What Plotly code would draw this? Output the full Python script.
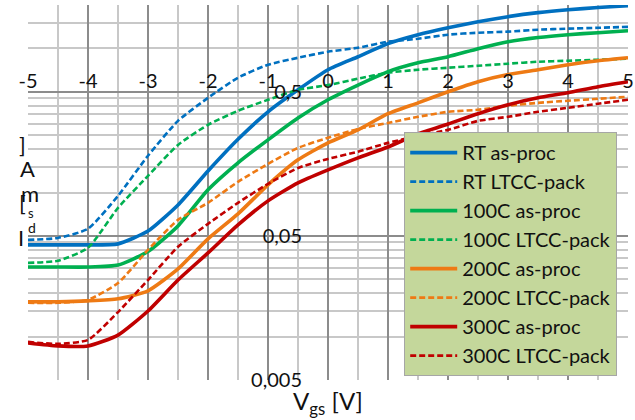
import math
import plotly.graph_objects as go

# ---------------- data ----------------
vgs = [-5, -4.5, -4, -3.5, -3, -2.5, -2, -1.5, -1, -0.5, 0,
       0.5, 1, 1.5, 2, 2.5, 3, 3.5, 4, 4.5, 5]

rt_as_proc = [0.0433, 0.0433, 0.0433, 0.0440, 0.054, 0.082, 0.141, 0.234, 0.363, 0.516, 0.711,
              0.875, 1.08, 1.245, 1.39, 1.53, 1.66, 1.77, 1.855, 1.92, 1.98]
rt_ltcc = [0.0469, 0.0484, 0.056, 0.0948, 0.180, 0.314, 0.454, 0.626, 0.770, 0.861, 0.948,
           1.01, 1.112, 1.166, 1.245, 1.285, 1.306, 1.348, 1.37, 1.39, 1.41]
c100_as_proc = [0.0304, 0.0304, 0.0304, 0.0314, 0.0389, 0.0586, 0.1043, 0.1606, 0.232, 0.329, 0.44,
                0.556, 0.69, 0.795, 0.875, 0.995, 1.112, 1.19, 1.245, 1.285, 1.327]
c100_ltcc = [0.0325, 0.0336, 0.0413, 0.0783, 0.1305, 0.214, 0.295, 0.369, 0.440, 0.516, 0.556,
             0.616, 0.678, 0.711, 0.734, 0.758, 0.783, 0.808, 0.821, 0.834, 0.848]
c200_as_proc = [0.01744, 0.01744, 0.0177, 0.0183, 0.0208, 0.0295, 0.0477, 0.0711, 0.113, 0.1685, 0.221,
                0.272, 0.352, 0.419, 0.500, 0.587, 0.658, 0.711, 0.770, 0.821, 0.861]
c200_ltcc = [0.01716, 0.01716, 0.0180, 0.02355, 0.0400, 0.0646, 0.0848, 0.1186, 0.158, 0.204, 0.240,
             0.276, 0.304, 0.335, 0.363, 0.375, 0.40, 0.419, 0.433, 0.447, 0.462]
c300_as_proc = [0.00904, 0.00862, 0.00862, 0.01025, 0.01506, 0.0247, 0.0381, 0.0596, 0.0875, 0.1167, 0.1436,
                0.174, 0.207, 0.255, 0.299, 0.352, 0.406, 0.454, 0.492, 0.542, 0.587]
c300_ltcc = [0.00919, 0.0089, 0.00948, 0.0148, 0.0247, 0.0420, 0.0606, 0.0848, 0.1148, 0.148, 0.171,
             0.192, 0.221, 0.247, 0.272, 0.314, 0.335, 0.363, 0.387, 0.413, 0.440]

series_names = ["RT as-proc", "RT LTCC-pack", "100C as-proc", "100C LTCC-pack",
                "200C as-proc", "200C LTCC-pack", "300C as-proc", "300C LTCC-pack"]
series_values = [rt_as_proc, rt_ltcc, c100_as_proc, c100_ltcc,
                 c200_as_proc, c200_ltcc, c300_as_proc, c300_ltcc]

x_tick_vals = [-5, -4, -3, -2, -1, 0, 1, 2, 3, 4, 5]
x_tick_labels = ["-5", "-4", "-3", "-2", "-1", "0", "1", "2", "3", "4", "5"]
x_minor_vals = [-4.5, -3.5, -2.5, -1.5, -0.5, 0.5, 1.5, 2.5, 3.5, 4.5]

y_tick_vals = [0.005, 0.05, 0.5]
y_tick_labels = ["0,005", "0,05", "0,5"]
y_minor_vals = [0.01, 0.015, 0.02, 0.025, 0.03, 0.035, 0.04, 0.045,
                0.1, 0.15, 0.2, 0.25, 0.3, 0.35, 0.4, 0.45,
                1.0, 1.5, 2.0]

x_title = "V<sub>gs</sub> [V]"
y_title_chars = ["]", "A", "m", "[", "s", "d", "I"]

# ---------------- styles ----------------
colors = ["#0070C0", "#0070C0", "#00B050", "#00B050",
          "#EE7A14", "#EE7A14", "#C00000", "#C00000"]
FONT = "Lato"

fig = go.Figure()
for name, vals, col, i in zip(series_names, series_values, colors, range(8)):
    dashed = (i % 2 == 1)
    fig.add_trace(go.Scatter(
        x=vgs, y=vals, mode="lines", name=name, legendgroup=name,
        line=dict(color=col, width=2.6 if dashed else 3.6,
                  dash="6px,3px" if dashed else "solid",
                  shape="spline", smoothing=0.55),
        hoverinfo="skip"))

ylo, yhi = math.log10(0.005), math.log10(2.0)
x_axis_pos = (math.log10(0.5) - ylo) / (yhi - ylo)

fig.update_layout(
    width=635, height=420,
    margin=dict(l=28, r=7, t=5, b=40),
    paper_bgcolor="white", plot_bgcolor="white",
    font=dict(family=FONT, color="#111111"),
    showlegend=True,
    legend=dict(x=0.627, y=0.661, xanchor="left", yanchor="top",
                bgcolor="#C4D79B", bordercolor="#A6A6A6", borderwidth=1,
                font=dict(family=FONT, size=20, color="#111111"),
                tracegroupgap=0, itemwidth=47, entrywidth=220, entrywidthmode="pixels"),
    xaxis=dict(range=[-5, 5], tickmode="array", tickvals=x_tick_vals, ticktext=x_tick_labels,
               showgrid=True, gridcolor="#8C8C8C", gridwidth=2,
               minor=dict(tickvals=x_minor_vals, showgrid=True, gridcolor="#C8C8C8", gridwidth=1.5),
               zeroline=False, showline=False, ticks="", automargin=False,
               anchor="free", position=x_axis_pos, side="top",
               tickfont=dict(family=FONT, size=20, color="#111111")),
    yaxis=dict(type="log", range=[ylo, yhi], tickmode="array", tickvals=y_tick_vals, ticktext=y_tick_labels,
               showgrid=True, gridcolor="#8C8C8C", gridwidth=2,
               minor=dict(tickvals=y_minor_vals, showgrid=True, gridcolor="#C8C8C8", gridwidth=1.5),
               zeroline=False, showline=False, ticks="", automargin=False,
               anchor="free", position=0.5, side="left", ticklabelstandoff=26,
               tickfont=dict(family=FONT, size=20, color="#111111")),
)

# x-axis title
fig.add_annotation(text=x_title, xref="paper", yref="paper", x=0.5, y=-0.061,
                   showarrow=False, font=dict(family=FONT, size=24, color="#111111"),
                   xanchor="center", yanchor="middle")

# y-axis title (stacked characters as in the reference)
char_pos = [(22, 145, 22), (27, 168, 22), (30, 193, 22), (22, 202, 22),
            (31, 213, 13), (32, 227, 14), (21, 237, 22)]
for ch, (px, py, sz) in zip(y_title_chars, char_pos):
    fig.add_annotation(text=ch, xref="paper", yref="paper",
                       x=(px - 28) / 600, y=(380 - py) / 375,
                       showarrow=False, font=dict(family=FONT, size=sz, color="#111111"),
                       xanchor="center", yanchor="middle")

fig.write_html("out.html", config={"displayModeBar": False},
               post_script="document.body.style.margin='0px';document.body.style.overflow='hidden';")
